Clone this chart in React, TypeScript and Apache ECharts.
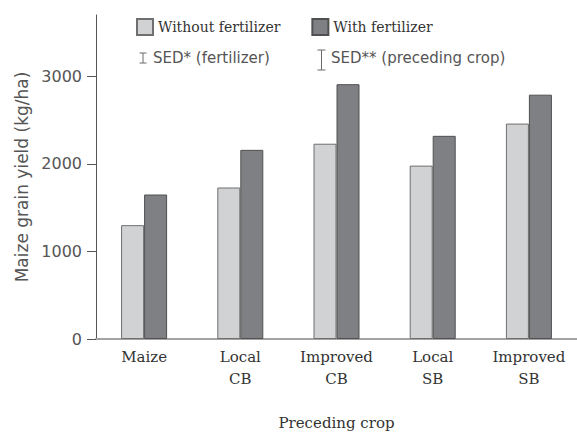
import React, { useEffect, useRef } from "react";
import * as echarts from "echarts";

// Preceding crops on the x axis (two-line labels)
const categories = ["Maize", "Local\nCB", "Improved\nCB", "Local\nSB", "Improved\nSB"];
// Maize grain yield (kg/ha)
const withoutFertilizer = [1300, 1730, 2230, 1980, 2460];
const withFertilizer = [1650, 2160, 2910, 2320, 2790];
const yTicks = [0, 1000, 2000, 3000];

const serif = "DejaVu Serif";
const sans = "DejaVu Sans";

// I-shaped error-bar glyph used in the SED key
function errorBarGlyph(cx: number, y1: number, y2: number, half: number) {
  const style = { stroke: "#6a6a6a", lineWidth: 1 };
  return {
    type: "group",
    silent: true,
    children: [
      { type: "line", shape: { x1: cx, y1, x2: cx, y2 }, style },
      { type: "line", shape: { x1: cx - half, y1, x2: cx + half, y2: y1 }, style },
      { type: "line", shape: { x1: cx - half, y1: y2, x2: cx + half, y2 }, style },
    ],
  };
}

export default function App() {
  const ref = useRef<HTMLDivElement>(null);

  useEffect(() => {
    if (!ref.current) return;
    const chart = echarts.init(ref.current, null, { renderer: "svg" });
    chart.setOption({
      animation: false,
      backgroundColor: "#ffffff",
      grid: { left: 96, top: 15, width: 490, height: 330, containLabel: false },
      legend: {
        left: 136,
        top: 18,
        padding: 0,
        itemWidth: 16,
        itemHeight: 16,
        itemGap: 31,
        icon: "rect",
        textStyle: { fontFamily: serif, fontSize: 14, color: "#333" },
        data: ["Without fertilizer", "With fertilizer"],
      },
      xAxis: {
        type: "category",
        data: categories,
        name: "Preceding crop",
        nameLocation: "middle",
        nameGap: 76,
        nameTextStyle: { fontFamily: serif, fontSize: 15, color: "#333" },
        axisLine: { lineStyle: { color: "#a3a3a3", width: 2 } },
        axisTick: { show: false },
        axisLabel: {
          fontFamily: serif,
          fontSize: 15,
          color: "#333",
          lineHeight: 22,
          margin: 7,
          interval: 0,
        },
      },
      yAxis: {
        type: "value",
        min: 0,
        max: 3700,
        interval: 1000,
        name: "Maize grain yield (kg/ha)",
        nameLocation: "middle",
        nameGap: 64,
        nameTextStyle: { fontFamily: sans, fontSize: 17, color: "#555" },
        splitLine: { show: false },
        axisLine: { show: true, lineStyle: { color: "#555", width: 1 } },
        axisTick: {
          show: true,
          length: 9,
          customValues: yTicks,
          lineStyle: { color: "#555" },
        },
        axisLabel: {
          customValues: yTicks,
          formatter: (v: number) => String(v),
          fontFamily: sans,
          fontSize: 16,
          color: "#555",
          margin: 14,
        },
      },
      series: [
        {
          name: "Without fertilizer",
          type: "bar",
          data: withoutFertilizer,
          barWidth: 23,
          barGap: "0%",
          itemStyle: { color: "#d1d2d4", borderColor: "#6f6f6f", borderWidth: 1 },
        },
        {
          name: "With fertilizer",
          type: "bar",
          data: withFertilizer,
          barWidth: 23,
          barGap: "0%",
          itemStyle: { color: "#7f8084", borderColor: "#505050", borderWidth: 1 },
        },
      ],
      graphic: [
        errorBarGlyph(143, 53, 63, 3.5),
        {
          type: "text",
          left: 153,
          top: 50,
          silent: true,
          style: { text: "SED* (fertilizer)", fontFamily: sans, fontSize: 15, fill: "#555" },
        },
        errorBarGlyph(321.5, 50, 70, 4),
        {
          type: "text",
          left: 331,
          top: 50,
          silent: true,
          style: { text: "SED** (preceding crop)", fontFamily: sans, fontSize: 15, fill: "#555" },
        },
      ],
    });
    return () => chart.dispose();
  }, []);

  return (
    <div
      ref={ref}
      style={{ position: "fixed", left: 0, top: 0, width: 577, height: 435, background: "#fff" }}
    />
  );
}
